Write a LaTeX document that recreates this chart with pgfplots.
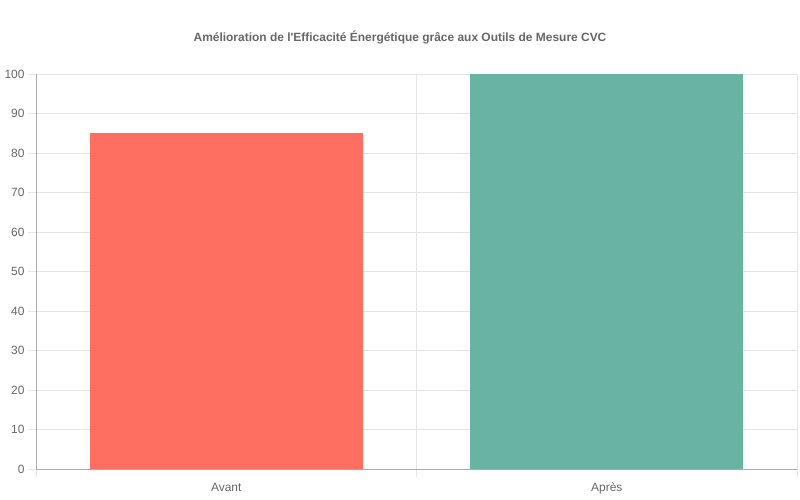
\documentclass[border=0pt]{standalone}
\usepackage{fontspec}
\setmainfont{Liberation Sans}[Ligatures=TeXOff]
\usepackage{pgfplots}
\pgfplotsset{compat=1.18}
\definecolor{redbar}{RGB}{255,111,97}
\definecolor{tealbar}{RGB}{105,179,162}
\definecolor{gridc}{RGB}{229,229,229}
\definecolor{axc}{RGB}{170,170,170}
\definecolor{txt}{RGB}{102,102,102}
\begin{document}
\begin{tikzpicture}[x=1bp,y=1bp]
\useasboundingbox (0,0) rectangle (800,500);
\node[font=\bfseries\fontsize{12}{14}\selectfont, text=txt] at (400,463) {Amélioration de l'Efficacité Énergétique grâce aux Outils de Mesure CVC};
\begin{axis}[
  at={(36bp,31bp)}, anchor=south west, scale only axis,
  width=761bp, height=395bp,
  xmin=-0.5, xmax=1.5, ymin=0, ymax=100,
  axis x line*=bottom, axis y line*=left,
  axis line style={axc, line width=0.8bp},
  xtick={-0.5,0.5,1.5}, xticklabels={},
  extra x ticks={0,1}, extra x tick labels={Avant,Après},
  extra x tick style={tick style={draw=none}, xmajorgrids=false, xticklabel style={yshift=-2bp, text height=9bp, text depth=3bp}},
  ytick={0,10,...,100},
  xmajorgrids, ymajorgrids,
  grid style={gridc, line width=0.8bp},
  tick align=outside,
  major tick length=8bp,
  tick style={gridc, line width=0.8bp},
  tick label style={font=\fontsize{12}{14}\selectfont, text=txt},
  /pgf/number format/assume math mode=true,
  ybar, bar width=273bp,
]
\addplot[draw=none, fill=redbar, bar shift=0pt] coordinates {(0,85)};
\addplot[draw=none, fill=tealbar, bar shift=0pt] coordinates {(1,100)};
\end{axis}
\end{tikzpicture}
\end{document}
